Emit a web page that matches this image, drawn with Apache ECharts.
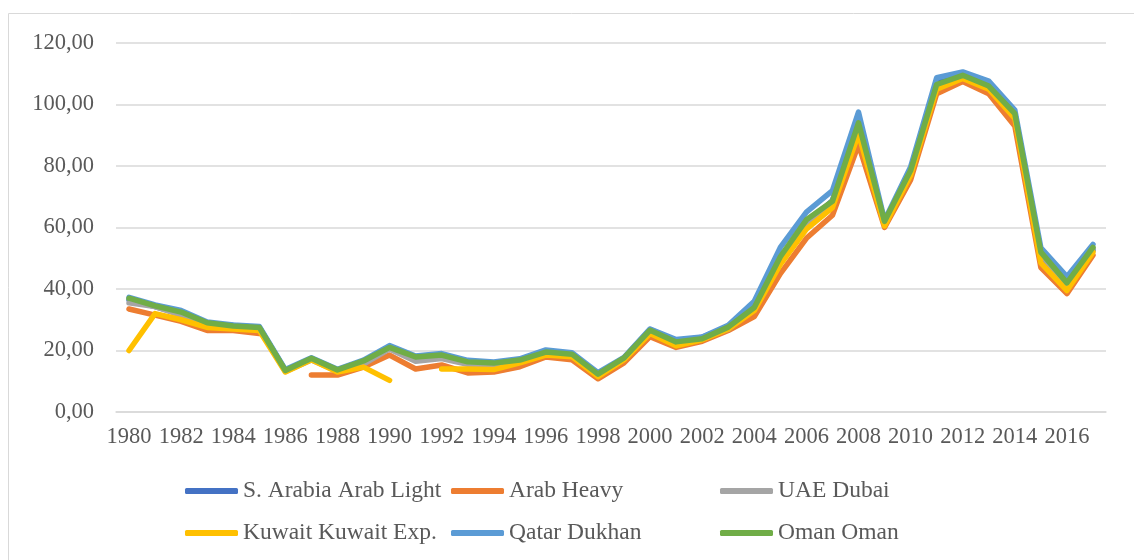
<!DOCTYPE html>
<html>
<head>
<meta charset="utf-8">
<script src="https://cdn.jsdelivr.net/npm/echarts@6/dist/echarts.min.js"></script>
<style>
  html, body { margin: 0; padding: 0; background: #fff; }
  #chart { width: 1134px; height: 560px; }
</style>
</head>
<body>
<div id="chart"></div>
<script>
// years on the x axis
const years = [];
for (let y = 1980; y <= 2017; y++) years.push(String(y));

// series values (null = gap)
const arabLight = [36.5, 34.3, 31.8, 28.8, 28.1, 27.5, 13.5, 17.3, 13.4, 16.2, 20.8, 17.5, 18.4, 16.2, 15.6, 16.7, 19.6, 18.7, 12.2, 17.5, 26.8, 23.0, 24.3, 27.7, 34.5, 50.2, 61.1, 68.8, 94.5, 61.4, 77.8, 107.8, 110.2, 106.5, 97.2, 49.9, 41.0, 52.6];
const arabHeavy = [33.5, 31.5, 29.5, 26.5, 26.5, 25.5, null, 12.0, 12.0, 14.6, 18.5, 14.0, 15.3, 12.7, 13.0, 14.7, 17.9, 17.0, 10.8, 16.0, 24.5, 21.0, 23.0, 26.5, 31.0, 45.0, 56.5, 64.0, 87.0, 60.0, 75.5, 103.5, 107.5, 103.5, 93.0, 47.0, 38.5, 51.0];
const uaeDubai = [35.5, 34.3, 31.5, 28.2, 28.0, 27.5, 13.2, 16.9, 13.3, 15.6, 20.5, 16.5, 17.4, 15.5, 15.4, 16.8, 19.1, 18.1, 12.1, 17.2, 26.2, 22.8, 23.9, 26.9, 33.6, 49.3, 61.5, 68.4, 93.0, 61.8, 78.1, 106.2, 109.1, 105.5, 96.6, 51.2, 41.2, 53.1];
const kuwait = [20.0, 32.0, 30.0, 27.5, 27.0, 26.5, 13.0, 17.0, 13.0, 14.6, 10.3, null, 14.0, 14.0, 13.8, 16.0, 18.5, 18.0, 11.5, 17.0, 25.5, 21.5, 23.5, 27.0, 33.0, 48.0, 59.5, 66.5, 90.5, 60.5, 77.0, 105.0, 108.5, 105.0, 95.5, 48.5, 39.5, 52.0];
const qatar = [37.3, 34.8, 33.0, 29.3, 28.3, 27.8, 13.8, 17.6, 13.9, 16.9, 21.6, 18.2, 19.0, 16.8, 16.3, 17.3, 20.2, 19.3, 12.8, 17.8, 27.0, 23.6, 24.4, 28.2, 36.0, 53.5, 65.0, 72.0, 97.5, 62.3, 79.7, 108.7, 110.6, 107.6, 98.2, 53.4, 44.0, 54.5];
const oman = [37.0, 34.5, 32.5, 29.0, 28.0, 27.5, 13.5, 17.5, 13.7, 16.6, 21.0, 17.9, 18.5, 16.3, 15.9, 16.9, 19.5, 18.8, 12.3, 17.6, 26.6, 22.8, 23.8, 27.6, 34.0, 50.5, 62.5, 68.5, 94.0, 62.0, 78.5, 106.5, 109.5, 106.0, 97.0, 52.0, 42.0, 53.5];

const names = ["S. Arabia Arab Light", "Arab Heavy", "UAE Dubai", "Kuwait Kuwait Exp.", "Qatar Dukhan", "Oman Oman"];
const colors = ["#4472C4", "#ED7D31", "#A5A5A5", "#FFC000", "#5B9BD5", "#70AD47"];
const values = [arabLight, arabHeavy, uaeDubai, kuwait, qatar, oman];

const font = "'Liberation Serif', 'Times New Roman', serif";
const myChart = echarts.init(document.getElementById("chart"));

// one legend per item so the columns line up like in Excel
const legendLeft = [185, 451, 720];
const legendTop = [479, 521];
const legends = names.map(function (n, i) {
  return {
    data: [{ name: n, icon: "roundRect" }],
    left: legendLeft[i % 3],
    top: legendTop[Math.floor(i / 3)],
    padding: 0,
    itemWidth: 53,
    itemHeight: 6,
    itemGap: 5,
    itemStyle: { color: colors[i], borderWidth: 0 },
    lineStyle: { width: 0 },
    textStyle: { fontFamily: font, fontSize: 23.5, color: "#595959" }
  };
});

const option = {
  animation: false,
  color: colors,
  graphic: [
    {
      // chart area border
      type: "rect",
      shape: { x: 8.5, y: 13.5, width: 1200, height: 700 },
      style: { fill: "none", stroke: "#D9D9D9", lineWidth: 1 },
      silent: true
    }
  ],
  legend: legends,
  grid: { left: 116, right: 28, top: 43, bottom: 148 },
  xAxis: {
    type: "category",
    boundaryGap: true,
    data: years,
    axisLine: { show: true, lineStyle: { color: "#D9D9D9", width: 1.5 } },
    axisTick: { show: false },
    axisLabel: {
      interval: 1,
      margin: 14,
      fontFamily: font,
      fontSize: 22.5,
      color: "#595959"
    }
  },
  yAxis: {
    type: "value",
    min: 0,
    max: 120,
    interval: 20,
    axisLine: { show: false },
    axisTick: { show: false },
    splitLine: { lineStyle: { color: "#D9D9D9", width: 1.5 } },
    axisLabel: {
      margin: 22,
      fontFamily: font,
      fontSize: 22.5,
      color: "#595959",
      formatter: function (v) { return v.toFixed(2).replace(".", ","); }
    }
  },
  series: names.map(function (n, i) {
    return {
      name: n,
      type: "line",
      data: values[i],
      symbol: "none",
      connectNulls: false,
      lineStyle: { width: 5.5, color: colors[i], cap: "round", join: "round" },
      itemStyle: { color: colors[i] }
    };
  })
};

myChart.setOption(option);
</script>
</body>
</html>
